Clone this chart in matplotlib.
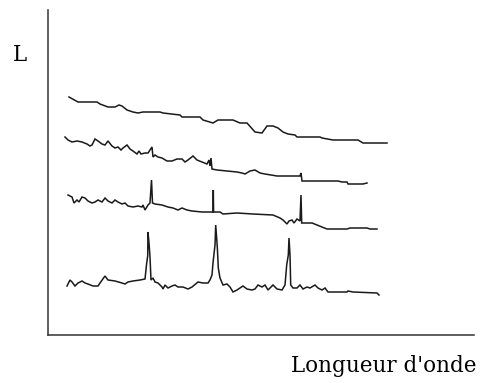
#spectres L en fonction de la longueur d'onde, 4 courbes decalees
import matplotlib
matplotlib.use("Agg")
import matplotlib.pyplot as plt

#courbe du haut (la plus lisse)
x1 = [69, 78, 97, 100, 108, 115, 119, 122, 127, 133, 138, 143, 160, 163, 180, 182, 200, 203, 213, 218,
      233, 240, 247, 255, 262, 267, 273, 278, 283, 288, 295, 297, 320, 322, 333, 358, 363, 387]
L1 = [238, 233, 233, 231, 228, 228, 230, 229, 225, 223, 222, 223, 223, 222, 220, 218, 218, 215, 212, 215,
      215, 212, 212, 203, 202, 209, 209, 207, 203, 201, 200, 198, 198, 197, 195, 195, 192, 192]

#deuxieme courbe (bruitee)
x2 = [65, 68, 72, 77, 82, 87, 90, 92, 95, 98, 102, 105, 108, 112, 115, 118, 121, 123, 127, 130,
      133, 137, 139, 141, 145, 148, 152, 153, 155, 158, 162, 167, 172, 177, 182, 185, 188, 193, 197, 202,
      207, 209, 210, 211, 212, 217, 227, 237, 242, 245, 250, 255, 260, 265, 277, 300, 301, 302, 338, 342,
      347, 348, 363, 367]
L2 = [198, 195, 193, 194, 193, 191, 189, 190, 196, 194, 191, 190, 194, 189, 187, 188, 185, 187, 190, 186,
      184, 181, 184, 181, 182, 182, 188, 178, 180, 178, 177, 174, 174, 176, 176, 173, 175, 179, 175, 173,
      171, 175, 169, 177, 166, 165, 164, 163, 162, 161, 164, 165, 162, 161, 159, 159, 162, 154, 154, 153,
      153, 151, 151, 152]

#troisieme courbe (raies fines)
x3 = [68, 72, 74, 77, 79, 82, 85, 88, 92, 95, 98, 102, 105, 108, 112, 115, 118, 122, 125, 128,
      133, 138, 142, 143, 145, 148, 150, 151.5, 152.5, 155, 162, 168, 173, 178, 182, 187, 192, 202, 213, 213.3,
      213.6, 220, 223, 237, 253, 273, 280, 283, 287, 289, 292, 294, 297, 300, 301, 301.7, 312, 317, 327, 347,
      350, 367, 370, 377]
L3 = [140, 138, 132, 135, 133, 138, 137, 134, 132, 133, 135, 133, 137, 134, 132, 135, 133, 131, 132, 129,
      128, 129, 128, 130, 125, 130, 132, 155, 132, 131, 130, 128, 127, 125, 127, 125, 124, 123, 123, 145,
      123, 123, 121, 122, 121, 120, 117, 115, 111, 114, 115, 112, 116, 114, 140, 112, 112, 110, 106, 106,
      107, 107, 106, 106]

#courbe du bas (raies larges)
x4 = [67, 70, 72, 75, 78, 82, 85, 88, 93, 98, 100, 105, 108, 115, 122, 125, 128, 133, 140, 145,
      146.7, 147.7, 148, 149, 150, 151, 153, 155, 158, 162, 163, 165, 168, 172, 175, 178, 183, 188, 192, 198,
      203, 208, 210, 212, 213, 215, 215.7, 217.3, 218.3, 220, 223, 227, 230, 233, 237, 240, 243, 247, 252, 255,
      258, 262, 265, 268, 273, 277, 282, 285, 286.7, 288.3, 289, 290, 290.7, 293, 297, 300, 303, 307, 310, 315,
      318, 322, 325, 328, 347, 348, 353, 377, 379]
L4 = [49, 55, 53, 49, 52, 54, 52, 51, 49, 49, 52, 59, 55, 54, 52, 51, 53, 54, 55, 56,
      72, 79, 103, 92, 78, 55, 57, 53, 52, 48, 46, 50, 47, 49, 50, 48, 48, 46, 48, 53,
      52, 52, 55, 60, 72, 90, 110, 88, 67, 57, 50, 51, 48, 43, 45, 47, 49, 46, 45, 46,
      50, 48, 50, 45, 50, 46, 45, 50, 70, 80, 97, 80, 50, 47, 47, 50, 46, 48, 47, 50,
      47, 45, 47, 43, 43, 44, 43, 42, 40]

fig = plt.figure(figsize=(4.81, 3.83), dpi=100)
ax = fig.add_axes([48/481, 48/383, 426/481, 325/383])

for x, L in [(x1, L1), (x2, L2), (x3, L3), (x4, L4)]:
    ax.plot(x, L, color="#1a1a1a", linewidth=1.1, solid_joinstyle="miter")

ax.set_xlim(48, 474)
ax.set_ylim(0, 325)
ax.spines["top"].set_visible(False)
ax.spines["right"].set_visible(False)
for s in ["left", "bottom"]:
    ax.spines[s].set_color("#333333")
    ax.spines[s].set_linewidth(1.1)
ax.set_xticks([])
ax.set_yticks([])

fig.text(20/481, 1 - 55/383, "L", family="DejaVu Serif", fontsize=15.5,
         ha="center", va="center")
fig.text(384/481, 1 - 372/383, "Longueur d'onde", family="DejaVu Serif", fontsize=15.5,
         ha="center", va="baseline")

fig.savefig("out.png", dpi=100)
